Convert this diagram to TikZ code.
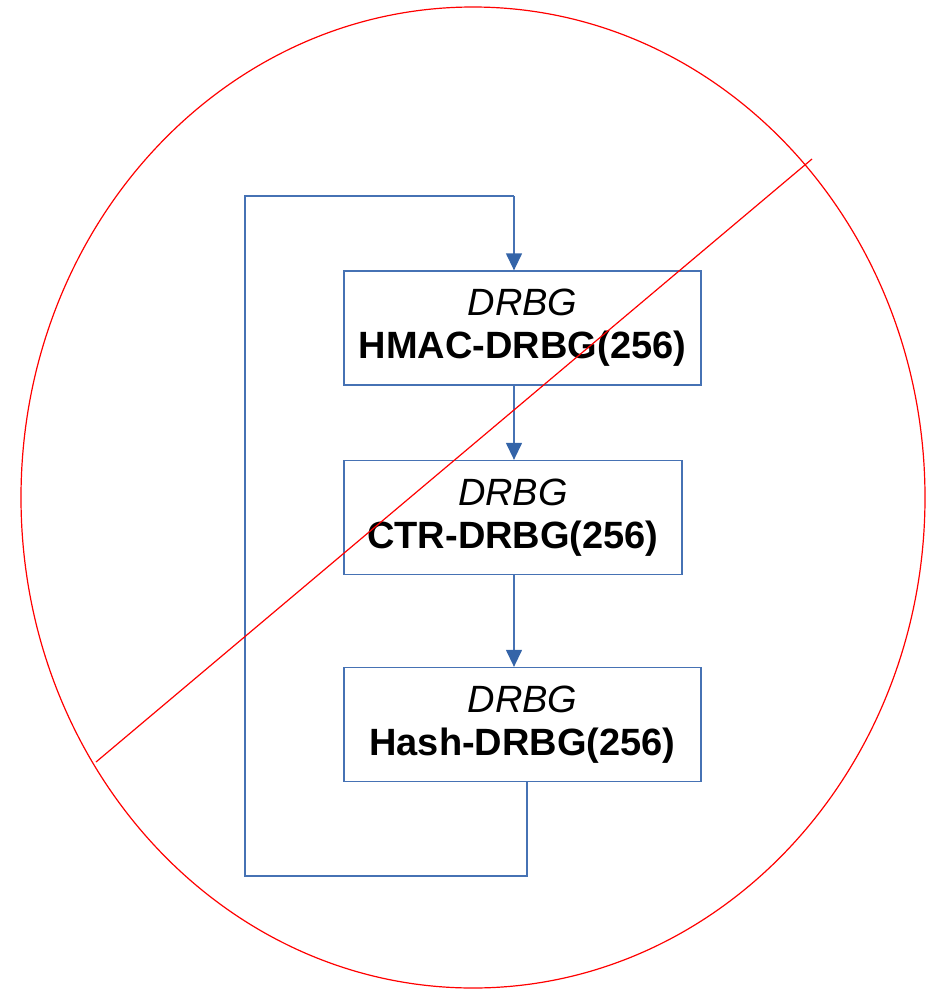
\documentclass[tikz,border=0pt]{standalone}
\usepackage{fontspec}
\setmainfont{Liberation Sans}
\usetikzlibrary{arrows.meta,shapes.geometric}
\definecolor{flowblue}{RGB}{70,114,180}
\definecolor{tipblue}{RGB}{52,100,168}
\tikzset{
  box/.style={draw=flowblue, line width=1.3pt, minimum width=#1, minimum height=114pt, inner sep=0pt, align=center, font=\fontsize{38}{43}\selectfont},
  flow/.style={draw=flowblue, line width=1.3pt, -{Triangle[width=16pt,length=17pt,color=tipblue]}},
  loopline/.style={draw=flowblue, line width=1.3pt},
  cross/.style={draw=red, line width=1.2pt}
}
\begin{document}
\begin{tikzpicture}[x=1pt,y=-1pt]
\useasboundingbox (0,0) rectangle (927,991);
\node[box=357pt] (b1) at (522.5,328) {\textit{DRBG}\\\textbf{HMAC-DRBG(256)}};
\node[box=338pt] (b2) at (513,517.5) {\textit{DRBG}\\\textbf{CTR-DRBG(256)}};
\node[box=357pt] (b3) at (522.5,724.5) {\textit{DRBG}\\\textbf{Hash-DRBG(256)}};
\coordinate (c1) at (527,876);
\coordinate (c2) at (245,876);
\coordinate (c3) at (245,196);
\coordinate (c4) at (514,196);
\draw[flow] (b1.south -| c4) -- (b2.north -| c4);
\draw[flow] (b2.south -| c4) -- (b3.north -| c4);
\draw[loopline] (b3.south -| c1) -- (c1) -- (c2) -- (c3) -- (c4);
\draw[flow] (c4) -- (b1.north -| c4);
\node[draw=red, line width=1.2pt, ellipse, minimum width=904pt, minimum height=981pt, inner sep=0pt] (ring) at (473,497.5) {};
\coordinate (s1) at (96,762);
\coordinate (s2) at (812,159);
\draw[cross] (s1) -- (s2);
\end{tikzpicture}
\end{document}
